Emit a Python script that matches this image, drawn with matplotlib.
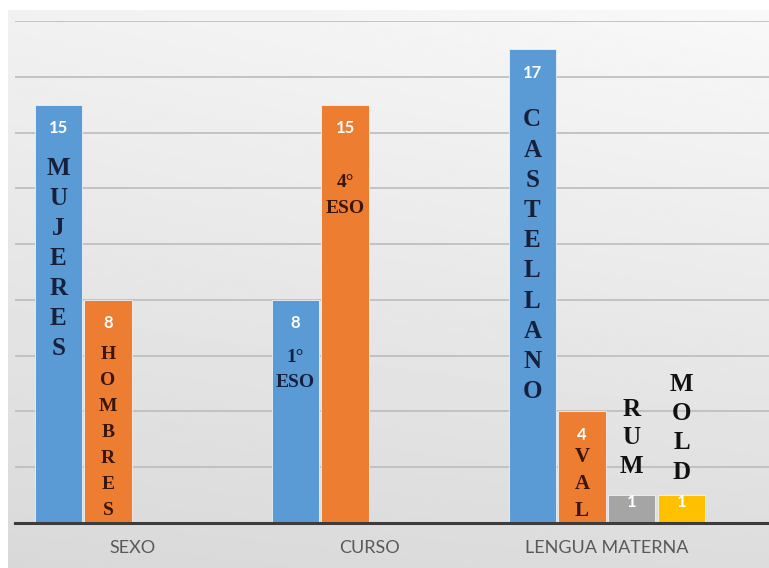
import numpy as np
import matplotlib
matplotlib.use("Agg")
import matplotlib.pyplot as plt

# ---- data ----
categories = ["SEXO", "CURSO", "LENGUA MATERNA"]
blue_vals = [15, 8, 17]
orange_vals = [8, 15, 4]
gray_vals = [None, None, 1]
yellow_vals = [None, None, 1]
series = [blue_vals, orange_vals, gray_vals, yellow_vals]
colors = ["#5b9bd5", "#ed7d31", "#a5a5a5", "#ffc000"]

# annotation texts: (category, series, letters)
notes = [
    (0, 0, list("MUJERES")),
    (0, 1, list("HOMBRES")),
    (1, 0, ["1°", "ESO"]),
    (1, 1, ["4°", "ESO"]),
    (2, 0, list("CASTELLANO")),
    (2, 1, list("VAL")),
    (2, 2, list("RUM")),
    (2, 3, list("MOLD")),
]
# layout (pixels below bar top of first line, step px, fontsize pt, color)
note_style = {
    (0, 0): (64, 30, 18, "#17203a"),
    (0, 1): (55, 26, 14, "#3a150a"),
    (1, 0): (58, 25, 14, "#17203a"),
    (1, 1): (78, 26, 14, "#3a150a"),
    (2, 0): (71, 30.2, 18, "#17203a"),
    (2, 1): (46, 27, 15, "#3a150a"),
    (2, 2): (-86, 28.5, 18, "#111111"),
    (2, 3): (-111, 29.3, 18, "#111111"),
}

W, H, DPI = 769, 568, 100
fig = plt.figure(figsize=(W / DPI, H / DPI), dpi=DPI)
fig.patch.set_facecolor("white")

# background gradient of chart area
bg = fig.add_axes([8 / W, 0, 1 - 8 / W, 1 - 10 / H])
yy, xx = np.mgrid[0:1:200j, 0:1:200j]
val = 0.975 - 0.11 * yy - 0.03 * (1 - xx) * (1 - yy * 0.5)
bg.imshow(val, cmap="gray", vmin=0, vmax=1, aspect="auto", extent=[0, 1, 1, 0])
bg.set_axis_off()

ax = fig.add_axes([15 / W, 1 - 523 / H, 1 - 15 / W, (523 - 21) / H])
ax.set_facecolor("none")

x = np.arange(len(categories))
width = 0.2
step = 0.21
px2pt = 72 / DPI

bar_pos = {}
for si, vals in enumerate(series):
    off = (si - 1.5) * step
    for ci, v in enumerate(vals):
        if v is None:
            continue
        xc = x[ci] + off
        ax.bar(xc, v, width, color=colors[si], edgecolor="#eef3f8", linewidth=0.6, zorder=3)
        bar_pos[(ci, si)] = (xc, v)
        dy = -17 if v > 2 else -5
        ax.annotate(str(v), (xc, v), xytext=(0, dy), textcoords="offset points",
                    ha="center", va="center", color="white", fontsize=12,
                    fontweight="bold", family="Lato", zorder=5)

for ci, si, letters in notes:
    xc, v = bar_pos[(ci, si)]
    first, stp, fs, col = note_style[(ci, si)]
    for i, ch in enumerate(letters):
        dy_px = first + stp * i
        ax.annotate(ch, (xc, v), xytext=(0, -dy_px * px2pt), textcoords="offset points",
                    ha="center", va="center", color=col, fontsize=fs,
                    fontweight="bold", family="Liberation Serif", zorder=6)

ax.set_xlim(-0.498, 2.684)
ax.set_ylim(0, 18)
ax.set_yticks(np.arange(2, 19, 2))
ax.yaxis.grid(True, color="#bcbcbc", linewidth=1.2, zorder=0)
ax.set_axisbelow(True)
ax.tick_params(axis="y", left=False, labelleft=False)
ax.set_xticks(x)
ax.set_xticklabels(categories, color="#595959", fontsize=13, family="Lato")
ax.tick_params(axis="x", length=0, pad=12)
for s in ["top", "right", "left"]:
    ax.spines[s].set_visible(False)
ax.spines["bottom"].set_color("#3c3c3c")
ax.spines["bottom"].set_linewidth(2.2)
ax.spines["bottom"].set_zorder(4)

fig.savefig("out.png", dpi=DPI)
